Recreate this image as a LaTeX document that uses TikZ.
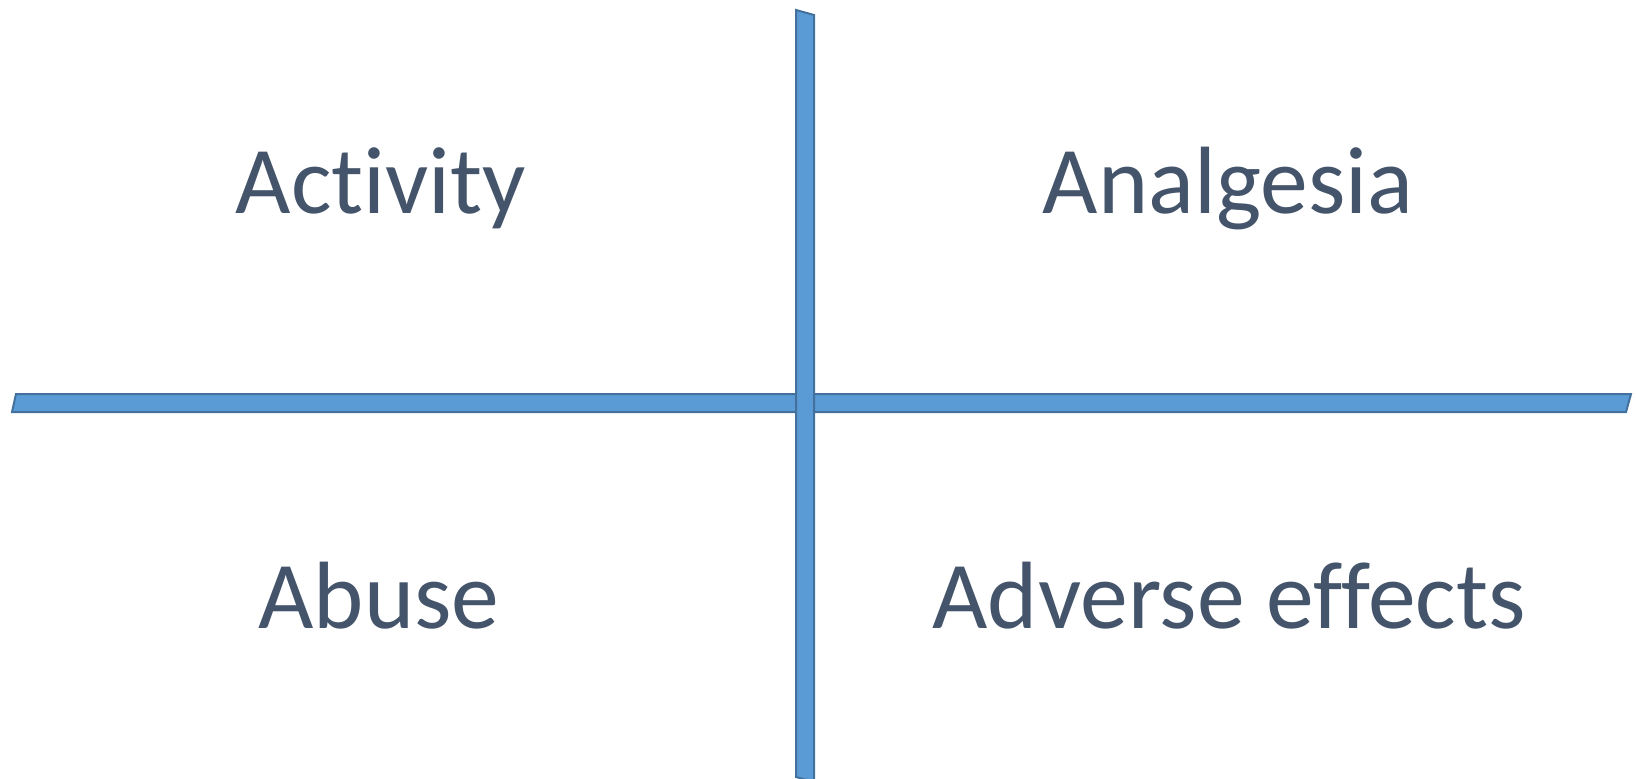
\documentclass[tikz,border=0pt]{standalone}
\usepackage{fontspec}
\setmainfont[Ligatures=NoCommon]{Carlito}
\definecolor{barfill}{HTML}{5B9BD5}
\definecolor{baredge}{HTML}{41719C}
\definecolor{labeltext}{HTML}{44546A}
\begin{document}
\begin{tikzpicture}[x=1bp,y=-1bp,
  bar/.style={fill=barfill,draw=baredge,line width=2bp,line join=miter},
  quadlabel/.style={anchor=base,inner sep=0pt,text=labeltext,
    font=\fontsize{96}{110}\selectfont}]
\useasboundingbox (0,0) rectangle (1636,779);
% horizontal axis
\draw[bar] (16,394) -- (1631,394) -- (1626,412) -- (12,412) -- cycle;
% vertical axis, on top
\draw[bar] (796,10) -- (814,15) -- (814,782) -- (796,777) -- cycle;
% quadrant labels
\node[quadlabel] (activity) at (381,213) {Activity};
\node[quadlabel] (analgesia) at (1228,213) {Analgesia};
\node[quadlabel] (abuse) at (379,628) {Abuse};
\node[quadlabel] (adverse) at (1229,628) {Adverse effects};
\end{tikzpicture}
\end{document}
